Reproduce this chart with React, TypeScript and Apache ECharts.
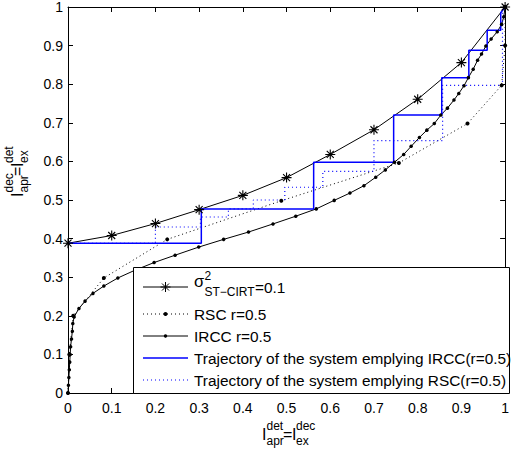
import { useEffect, useRef } from 'react';
import * as echarts from 'echarts';

const xTickLabels = ['0', '0.1', '0.2', '0.3', '0.4', '0.5', '0.6', '0.7', '0.8', '0.9', '1'];
const yTickLabels = ['0', '0.1', '0.2', '0.3', '0.4', '0.5', '0.6', '0.7', '0.8', '0.9', '1'];

// detector curve sigma^2 = 0.1
const sigmaX = [0, 0.1, 0.2, 0.3, 0.4, 0.5, 0.6, 0.7, 0.8, 0.9, 1];
const sigmaY = [0.388, 0.408, 0.439, 0.475, 0.512, 0.558, 0.618, 0.682, 0.761, 0.856, 1];

// RSC r=0.5 decoder curve
const rscX = [0, 0.003, 0.012, 0.082, 0.227, 0.488, 0.757, 0.914, 0.992, 1, 1];
const rscY = [0, 0.1, 0.2, 0.298, 0.398, 0.498, 0.596, 0.698, 0.797, 0.9, 1];

// IRCC r=0.5 decoder curve
const irccX = [0, 0.001, 0.002, 0.003, 0.004, 0.005, 0.006, 0.008, 0.01, 0.011, 0.014, 0.025, 0.039, 0.057, 0.082, 0.114, 0.153, 0.197, 0.245, 0.299, 0.356, 0.413, 0.469, 0.521, 0.568, 0.609, 0.645, 0.677, 0.704, 0.726, 0.747, 0.768, 0.785, 0.804, 0.821, 0.838, 0.853, 0.868, 0.883, 0.894, 0.906, 0.916, 0.927, 0.937, 0.946, 0.956, 0.968, 0.982, 0.992, 0.997, 1];
const irccY = [0, 0.02, 0.04, 0.06, 0.08, 0.1, 0.12, 0.14, 0.16, 0.18, 0.197, 0.219, 0.238, 0.258, 0.277, 0.298, 0.318, 0.338, 0.357, 0.378, 0.398, 0.417, 0.438, 0.458, 0.477, 0.499, 0.518, 0.537, 0.559, 0.578, 0.598, 0.618, 0.639, 0.662, 0.681, 0.698, 0.72, 0.738, 0.759, 0.776, 0.796, 0.817, 0.839, 0.862, 0.878, 0.899, 0.917, 0.936, 0.955, 0.975, 1];

// trajectory IRCC
const trajIrccX = [0, 0.305, 0.305, 0.562, 0.562, 0.745, 0.745, 0.855, 0.855, 0.917, 0.917, 0.959, 0.959, 0.99, 0.99, 1];
const trajIrccY = [0.388, 0.388, 0.477, 0.477, 0.598, 0.598, 0.72, 0.72, 0.817, 0.817, 0.888, 0.888, 0.94, 0.94, 0.985, 1];

// trajectory RSC
const trajRscX = [0, 0.2, 0.2, 0.303, 0.303, 0.367, 0.367, 0.424, 0.424, 0.496, 0.496, 0.583, 0.583, 0.7, 0.7, 0.857, 0.857, 0.994, 0.994, 1];
const trajRscY = [0.388, 0.388, 0.43, 0.43, 0.456, 0.456, 0.477, 0.477, 0.5, 0.5, 0.533, 0.533, 0.574, 0.574, 0.654, 0.654, 0.797, 0.797, 0.99, 1];

const legendLabels = ['RSC r=0.5', 'IRCC r=0.5', 'Trajectory of the system emplying IRCC(r=0.5)', 'Trajectory of the system emplying RSC(r=0.5)'];

const FONT = '"Liberation Sans", Arial, Helvetica, sans-serif';
const pairs = (xs: number[], ys: number[]) => xs.map((x, i) => [x, ys[i]]);
const ASTERISK = 'path://M5 0L5 10M0 5L10 5M1.5 1.5L8.5 8.5M1.5 8.5L8.5 1.5';

function txt(text: string, x: number, y: number, size: number, extra: any = {}) {
  return {
    type: 'text', x, y, z: 101,
    style: { text, fill: '#000', fontSize: size, fontFamily: FONT, align: 'left', verticalAlign: 'middle', textAlign: 'left', textVerticalAlign: 'middle', ...extra },
  };
}

function asteriskLines(cx: number, cy: number, r: number) {
  const d = r * 0.7;
  const segs = [[0, -r, 0, r], [-r, 0, r, 0], [-d, -d, d, d], [-d, d, d, -d]];
  return segs.map((s) => ({
    type: 'line', z: 101,
    shape: { x1: cx + s[0], y1: cy + s[1], x2: cx + s[2], y2: cy + s[3] },
    style: { stroke: '#000', lineWidth: 1 },
  }));
}

export default function App() {
  const ref = useRef<HTMLDivElement>(null);
  useEffect(() => {
    const chart = echarts.init(ref.current!, null, { renderer: 'svg' });
    const axisCommon = {
      type: 'value', min: 0, max: 1, interval: 0.1,
      splitLine: { show: false },
      axisLine: { show: true, onZero: false, lineStyle: { color: '#000', width: 1 } },
      axisTick: { show: true, inside: true, length: 5, lineStyle: { color: '#000' } },
    };
    const rowYs = [287, 314, 336, 358, 380];
    const lx1 = 143, lx2 = 188, lcx = 165.5, tx = 194;
    const LF = 15.4;
    const graphic: any[] = [
      { type: 'rect', z: 100, shape: { x: 133.5, y: 267.5, width: 376, height: 126 }, style: { fill: '#fff', stroke: '#000', lineWidth: 1 } },
      // row 1
      { type: 'line', z: 101, shape: { x1: lx1, y1: rowYs[0], x2: lx2, y2: rowYs[0] }, style: { stroke: '#000', lineWidth: 1 } },
      ...asteriskLines(lcx, rowYs[0], 5),
      txt('σ', tx, rowYs[0] - 6, 16.5),
      txt('2', tx + 10.5, rowYs[0] - 11, 12),
      txt('ST−CIRT', tx + 10.5, rowYs[0] + 5, 12),
      txt('=0.1', tx + 61, rowYs[0], LF),
      // row 2
      { type: 'line', z: 101, shape: { x1: lx1, y1: rowYs[1], x2: lx2, y2: rowYs[1] }, style: { stroke: '#000', lineWidth: 1, lineDash: [1, 3] } },
      { type: 'circle', z: 101, shape: { cx: lcx, cy: rowYs[1], r: 2 }, style: { fill: '#000' } },
      txt(legendLabels[0], tx, rowYs[1], LF),
      // row 3
      { type: 'line', z: 101, shape: { x1: lx1, y1: rowYs[2], x2: lx2, y2: rowYs[2] }, style: { stroke: '#000', lineWidth: 1 } },
      { type: 'circle', z: 101, shape: { cx: lcx, cy: rowYs[2], r: 1.7 }, style: { fill: '#000' } },
      txt(legendLabels[1], tx, rowYs[2], LF),
      // row 4
      { type: 'line', z: 101, shape: { x1: lx1, y1: rowYs[3], x2: lx2, y2: rowYs[3] }, style: { stroke: '#0000ff', lineWidth: 1.5 } },
      txt(legendLabels[2], tx, rowYs[3], LF),
      // row 5
      { type: 'line', z: 101, shape: { x1: lx1, y1: rowYs[4], x2: lx2, y2: rowYs[4] }, style: { stroke: '#0000ff', lineWidth: 1.2, lineDash: [1, 3] } },
      txt(legendLabels[3], tx, rowYs[4], LF),
      // x axis name
      txt('I', 262, 434, 16),
      txt('det', 266.5, 426, 12),
      txt('apr', 266.5, 441, 12),
      txt('=', 283, 434, 16),
      txt('I', 292, 434, 16),
      txt('dec', 296, 426, 12),
      txt('ex', 296, 441, 12),
      // y axis name (rotated)
      {
        type: 'group', x: 17, y: 197, rotation: Math.PI / 2,
        children: [
          txt('I', 0, 0, 16),
          txt('dec', 4.5, -8, 12),
          txt('apr', 4.5, 7, 12),
          txt('=', 21, 0, 16),
          txt('I', 30, 0, 16),
          txt('det', 34, -8, 12),
          txt('ex', 34, 7, 12),
        ],
      },
    ];
    const option: any = {
      animation: false,
      backgroundColor: '#fff',
      grid: { left: 68, right: 3, top: 6, bottom: 57 },
      xAxis: [
        { ...axisCommon, position: 'bottom', axisLabel: { show: true, margin: 8, color: '#000', fontSize: 14, fontFamily: FONT, formatter: (v: number) => xTickLabels[Math.round(v * 10)] } },
        { ...axisCommon, position: 'top', axisLabel: { show: false } },
      ],
      yAxis: [
        { ...axisCommon, position: 'left', axisLabel: { show: true, margin: 5, color: '#000', fontSize: 14, fontFamily: FONT, formatter: (v: number) => yTickLabels[Math.round(v * 10)] } },
        { ...axisCommon, position: 'right', axisLabel: { show: false } },
      ],
      series: [
        {
          name: 'sigma', type: 'line', data: pairs(sigmaX, sigmaY), xAxisIndex: 0, yAxisIndex: 0,
          symbol: ASTERISK, symbolSize: 10, showSymbol: true,
          lineStyle: { color: '#000', width: 1 },
          itemStyle: { color: 'none', borderColor: '#000', borderWidth: 1.1 },
        },
        {
          name: 'RSC r=0.5', type: 'line', data: pairs(rscX, rscY),
          symbol: 'circle', symbolSize: 4, showSymbol: true,
          lineStyle: { color: '#000', width: 1, type: [1, 3] },
          itemStyle: { color: '#000' },
        },
        {
          name: 'IRCC r=0.5', type: 'line', data: pairs(irccX, irccY),
          symbol: 'circle', symbolSize: 3.5, showSymbol: true,
          lineStyle: { color: '#000', width: 1 },
          itemStyle: { color: '#000' },
        },
        {
          name: 'traj IRCC', type: 'line', data: pairs(trajIrccX, trajIrccY),
          symbol: 'none', lineStyle: { color: '#0000ff', width: 1.5 },
        },
        {
          name: 'traj RSC', type: 'line', data: pairs(trajRscX, trajRscY),
          symbol: 'none', lineStyle: { color: '#0000ff', width: 1.2, type: [1, 3] },
        },
      ],
      graphic,
    };
    chart.setOption(option);
    return () => chart.dispose();
  }, []);
  return <div ref={ref} style={{ position: 'fixed', left: 0, top: 0, width: 512, height: 450 }} />;
}
